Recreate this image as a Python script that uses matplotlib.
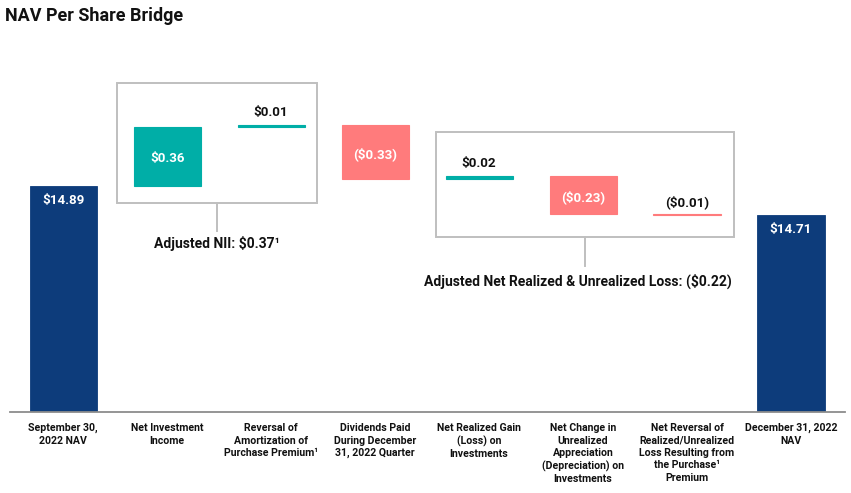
import matplotlib
matplotlib.use("Agg")
import matplotlib.pyplot as plt
from matplotlib.patches import Rectangle

plt.rcParams['font.family'] = ['Roboto', 'DejaVu Sans']

categories = [
    "September 30,\n2022 NAV",
    "Net Investment\nIncome",
    "Reversal of\nAmortization of\nPurchase Premium\u00b9",
    "Dividends Paid\nDuring December\n31, 2022 Quarter",
    "Net Realized Gain\n(Loss) on\nInvestments",
    "Net Change in\nUnrealized\nAppreciation\n(Depreciation) on\nInvestments",
    "Net Reversal of\nRealized/Unrealized\nLoss Resulting from\nthe Purchase\u00b9\nPremium",
    "December 31, 2022\nNAV",
]
values = [14.89, 0.36, 0.01, -0.33, 0.02, -0.23, -0.01, 14.71]
is_total = [True, False, False, False, False, False, False, True]
value_labels = ["$14.89", "$0.36", "$0.01", "($0.33)", "$0.02", "($0.23)", "($0.01)", "$14.71"]

NAVY = "#0d3c7b"
TEAL = "#00aea7"
SALMON = "#ff7b7c"
BOX = "#bfbfbf"

fig = plt.figure(figsize=(8.51, 4.93), dpi=100)
ax = fig.add_axes([0.012, 0.1643, 0.981, 0.714])
ymin = 13.51
ax.set_ylim(ymin, 15.656)
ax.set_xlim(-0.51, 7.52)

VFS = 9.6
running = 0.0
for i, (v, tot, lab) in enumerate(zip(values, is_total, value_labels)):
    if tot:
        bottom, height, color = ymin, v - ymin, NAVY
        running = v
        ax.bar(i, height, bottom=bottom, width=0.645, color=color, edgecolor=color, linewidth=0.6)
        ax.annotate(lab, (i, v), xytext=(0, -10.5), textcoords="offset points",
                    ha="center", va="center", color="white", fontsize=VFS, fontweight="bold")
    else:
        color = TEAL if v > 0 else SALMON
        bottom = running if v > 0 else running + v
        ax.bar(i, abs(v), bottom=bottom, width=0.645, color=color, edgecolor=color, linewidth=0.8)
        top = bottom + abs(v)
        if abs(v) < 0.05:
            off = 4.5 if v > 0 else 3.0
            ax.annotate(lab, (i, top), xytext=(0, off), textcoords="offset points",
                        ha="center", va="bottom", color="#111111", fontsize=VFS, fontweight="bold")
        else:
            ax.annotate(lab, (i, bottom + abs(v) / 2), xytext=(0, -1.5), textcoords="offset points",
                        ha="center", va="center", color="white", fontsize=VFS, fontweight="bold")
        running += v

ax.set_xticks(range(len(categories)))
ax.set_xticklabels(categories, fontsize=7.6, fontweight="bold", color="#111111", linespacing=1.3)
ax.tick_params(axis="x", length=0, pad=8)
ax.set_yticks([])
for s in ["left", "top", "right"]:
    ax.spines[s].set_visible(False)
ax.spines["bottom"].set_color("#8c8c8c")
ax.spines["bottom"].set_linewidth(1.3)

# Grouping boxes
ax.add_patch(Rectangle((0.52, 14.784), 1.92, 15.516 - 14.784, fill=False,
                       edgecolor=BOX, linewidth=1.4, clip_on=False))
ax.plot([1.48, 1.48], [14.784, 14.614], color=BOX, linewidth=1.4, clip_on=False)
ax.text(1.48, 14.54, "Adjusted NII: $0.37\u00b9", ha="center", va="center",
        fontsize=10, fontweight="bold", color="#111111")

ax.add_patch(Rectangle((3.587, 14.577), 2.865, 15.217 - 14.577, fill=False,
                       edgecolor=BOX, linewidth=1.4, clip_on=False))
ax.plot([5.02, 5.02], [14.577, 14.40], color=BOX, linewidth=1.4, clip_on=False)
ax.text(4.95, 14.309, "Adjusted Net Realized & Unrealized Loss: ($0.22)", ha="center",
        va="center", fontsize=10, fontweight="bold", color="#111111")

fig.text(0.006, 0.968, "NAV Per Share Bridge", ha="left", va="center",
         fontsize=13, fontweight="bold", color="#111111")

fig.savefig("out.png", dpi=100)
